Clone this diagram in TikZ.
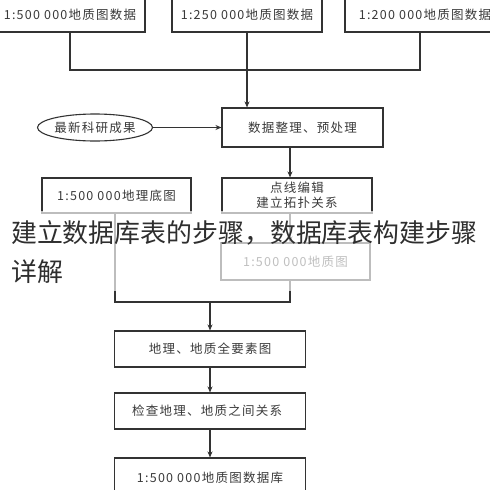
\documentclass[tikz,border=0pt]{standalone}
\usepackage{fontspec}
\setmainfont{Liberation Serif}
\newfontfamily\cjk{Noto Sans CJK SC}
\newfontfamily\cjksp[LetterSpace=10]{Noto Sans CJK SC}
\usetikzlibrary{arrows.meta,shapes.geometric}
\definecolor{ink}{HTML}{333333}
\definecolor{txt}{HTML}{3A3A3A}
\tikzset{
  box/.style={draw=ink, line width=1.1pt, rectangle, inner sep=0pt, align=center,
    text=txt, font=\cjksp\fontsize{12.5}{15}\selectfont},
  oval/.style={draw=ink, line width=1.1pt, ellipse, inner sep=0pt, align=center,
    text=txt, font=\cjksp\fontsize{12.5}{15}\selectfont},
  conn/.style={draw=ink, line width=1.1pt},
  arr/.style={conn, -{Stealth[length=6pt,width=5pt]}},
}
\begin{document}
\begin{tikzpicture}[x=1pt,y=-1pt]
\useasboundingbox (0,0) rectangle (490,490);
\fill[white] (0,0) rectangle (490,490);
% top boxes
\node[box, minimum width=150pt, minimum height=34pt] (b1) at (70,15) {1:500 000地质图数据};
\node[box, minimum width=150pt, minimum height=34pt] (b2) at (247,15) {1:250 000地质图数据};
\node[box, minimum width=150pt, minimum height=34pt] (b3) at (420,15) {\hspace*{10pt}1:200 000地质图数据};
\coordinate (jt) at (247,70);
\draw[conn] (b1.south) |- (jt) -| (b3.south);
% preprocessing
\node[box, minimum width=161pt, minimum height=39pt] (pre) at (302.5,127.5) {数据整理、预处理};
\node[oval, minimum width=115pt, minimum height=27pt] (sci) at (95,127.5) {最新科研成果};
\draw[arr] (b2.south) -- (b2.south |- pre.north);
\draw[arr] (sci.east) -- (pre.west);
\coordinate (c290) at (290,0);
% second row
\node[box, minimum width=150pt, minimum height=35pt] (edit) at (297,195.5) {点线编辑\\建立拓扑关系};
\node[box, minimum width=149pt, minimum height=35pt] (base) at (116.5,195.5) {1:500 000地理底图};
\draw[arr] (pre.south -| c290) -- (edit.north -| c290);
\node[box, minimum width=149pt, minimum height=37pt] (geo) at (295.5,261.5) {1:500 000地质图};
\draw[arr] (edit.south -| c290) -- (geo.north -| c290);
\coordinate (jm) at (210,302);
\coordinate (c115) at (115,0);
\draw[conn] (base.south -| c115) |- (jm) -| (geo.south -| c290);
% lower chain
\node[box, minimum width=191pt, minimum height=36pt] (all) at (210,349) {地理、地质全要素图};
\node[box, minimum width=191pt, minimum height=36pt] (chk) at (210,411) {检查地理、地质之间关系\hspace*{6pt}};
\node[box, minimum width=191pt, minimum height=40pt] (db) at (210,478) {1:500 000地质图数据库};
\draw[arr] (jm) -- (jm |- all.north);
\draw[arr] (all.south) -- (chk.north);
\draw[arr] (chk.south) -- (db.north);
% watermark band and text
\fill[white, opacity=0.68] (0,211) rectangle (490,291);
\node[anchor=west, inner sep=0pt, text=black!82, font=\cjk\fontsize{25.9}{30}\selectfont] (wm1) at (11,233) {建立数据库表的步骤，数据库表构建步骤};
\node[anchor=west, inner sep=0pt, text=black!82, font=\cjk\fontsize{25.9}{30}\selectfont] (wm2) at (11,272) {详解};
\end{tikzpicture}
\end{document}
